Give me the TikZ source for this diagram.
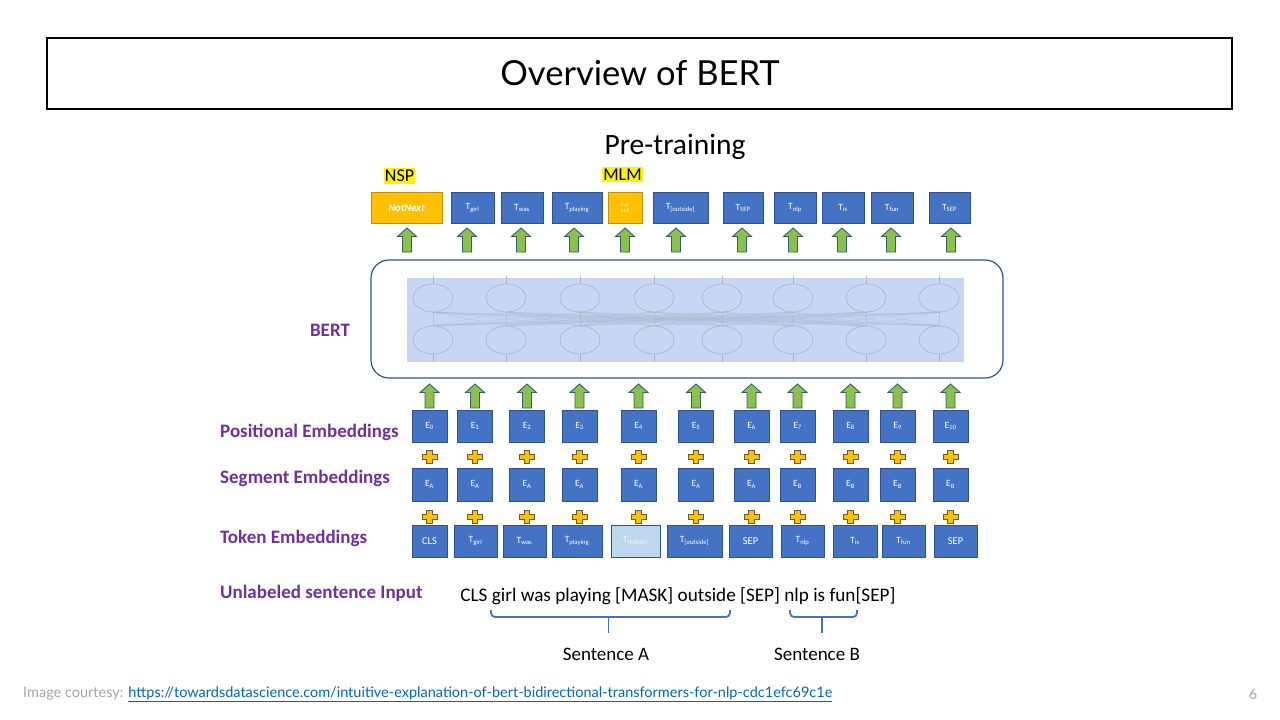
\documentclass[tikz,border=0pt]{standalone}
\usepackage{fontspec}
\setmainfont{Carlito}
\newfontfamily\gill{Lato}
\definecolor{bbox}{HTML}{4472C4}
\definecolor{bborder}{HTML}{2F528F}
\definecolor{orng}{HTML}{FFC000}
\definecolor{orngb}{HTML}{C09000}
\definecolor{purp}{HTML}{7030A0}
\definecolor{garr}{HTML}{86C24C}
\definecolor{garrb}{HTML}{3E5A70}
\definecolor{plusb}{HTML}{6B5A2A}
\definecolor{lightbl}{HTML}{C6D6F4}
\definecolor{maskbl}{HTML}{BDD7EE}
\definecolor{circg}{HTML}{A8B4CA}
\definecolor{linkbl}{HTML}{0563C1}
\definecolor{greytxt}{HTML}{A6A6A6}
\tikzset{
  tok/.style={draw=bborder, fill=bbox, line width=0.9pt, text=white,
    font=\fontsize{9.5}{10}\selectfont, inner sep=0pt, minimum height=32pt},
  otok/.style={tok, fill=orng, draw=orngb},
  arrowst/.style={draw=garrb, fill=garr, line width=0.9pt, line join=miter},
  plusst/.style={draw=plusb, fill=orng, line width=0.9pt},
  lbl/.style={font=\fontsize{19}{22}\selectfont\bfseries, text=purp, anchor=west, inner sep=0pt},
  bracest/.style={draw=bbox, line width=1.8pt, rounded corners=4pt},
  neuron/.style={draw=circg, line width=0.6pt, ellipse, minimum width=40pt, minimum height=28pt, inner sep=0pt},
}
\usetikzlibrary{shapes.geometric}
\newcommand\garrow[2]{%
  \draw[arrowst] (#1,#2) -- ++(9.5,8.5) -- ++(-5,0) -- ++(0,15.5) -- ++(-9,0) -- ++(0,-15.5) -- ++(-5,0) -- cycle;}
\newcommand\yplus[2]{%
  \draw[plusst] (#1-2.8,#2-6.5) -- (#1+2.8,#2-6.5) -- (#1+2.8,#2-2.5) -- (#1+7.5,#2-2.5) -- (#1+7.5,#2+2.5) -- (#1+2.8,#2+2.5) -- (#1+2.8,#2+6.5) -- (#1-2.8,#2+6.5) -- (#1-2.8,#2+2.5) -- (#1-7.5,#2+2.5) -- (#1-7.5,#2-2.5) -- (#1-2.8,#2-2.5) -- cycle;}
\begin{document}
\begin{tikzpicture}[x=1pt,y=-1pt]
\useasboundingbox[fill=white] (0,0) rectangle (1280,720);

% title
\node[draw=black, line width=2.2pt, minimum width=1185pt, minimum height=71pt, inner sep=0pt] (titlebox) at (639.5,73.5) {};
\node[font=\gill\fontsize{34.5}{38}\selectfont] (title) at (640,73) {Overview of BERT};

% pre-training
\node[font=\fontsize{29.5}{32}\selectfont] (pretrain) at (675,147) {Pre-training};
\node[fill=yellow, font=\fontsize{18}{20}\selectfont, inner xsep=1pt, inner ysep=2pt] (nsp) at (399.5,176) {NSP};
\node[fill=yellow, font=\fontsize{18}{20}\selectfont, inner xsep=1pt, inner ysep=2pt] (mlm) at (622.5,174.5) {MLM};

% top output row
\node[otok, minimum width=71pt, minimum height=31pt, font=\fontsize{10.5}{12}\selectfont\bfseries\itshape] (o0) at (406.5,208) {NotNext};
\node[otok, minimum width=34pt, minimum height=31pt, text=white!80!orng, font=\fontsize{5.5}{7}\selectfont, align=center] (o4) at (625,208) {lost\\[-1pt]ball};
\foreach \n/\x/\w/\t in {o1/472.5/43/{T\textsubscript{girl}}, o2/522/42/{T\textsubscript{was}}, o3/577/50/{T\textsubscript{playing}},
  o5/680.5/55/{T\textsubscript{[outside]}}, o6/743/40/{T\textsubscript{SEP}}, o7/795/42/{T\textsubscript{nlp}},
  o8/843/42/{T\textsubscript{is}}, o9/892/42/{T\textsubscript{fun}}, o10/949.5/41/{T\textsubscript{SEP}}}
  \node[tok, minimum width=\w pt, minimum height=31pt] (\n) at (\x,208) {\t};

% top arrows
\foreach \x in {407,467,521,574,625,676,742,793,842,891,951} \garrow{\x}{228};

% BERT block
\node[draw=bborder, line width=1.2pt, rounded corners=18pt, minimum width=632pt, minimum height=118pt, inner sep=0pt] (bert) at (687,319) {};
\fill[lightbl] (407,278) rectangle (964,362);
\foreach \x [count=\i] in {433,506,580,654,722,793,866,939}{
  \node[neuron] (u\i) at (\x,298) {};
  \node[neuron] (d\i) at (\x,340) {};
  \draw[circg, line width=0.5pt] (u\i.north) -- ++(0,-8);
  \draw[circg, line width=0.5pt] (d\i.south) -- ++(0,8);
}
\foreach \i in {1,...,8}{
  \foreach \j in {1,...,8}{
    \draw[circg, line width=0.3pt, opacity=0.6] (u\i.south) -- (d\j.north);
  }
}
\node[font=\fontsize{19}{22}\selectfont\bfseries, text=purp] (bertlbl) at (330,330) {BERT};

% lower arrows
\foreach \x in {429.5,475,527,579.5,638.5,696,751.5,797.5,850.5,897.5,950.5} \garrow{\x}{384};

% positional
\foreach \n/\x/\t in {p0/429.5/0, p1/475/1, p2/527/2, p3/579.5/3, p4/638.5/4, p5/696/5, p6/751.5/6, p7/797.5/7, p8/850.5/8, p9/897.5/9, p10/950.5/10}{
  \node[tok, minimum width=35pt] (\n) at (\x,426) {E\textsubscript{\t}};
  \yplus{\x}{457}
  \yplus{\x}{516.5}
}
% segment
\foreach \n/\x/\t in {s0/429.5/A, s1/475/A, s2/527/A, s3/579.5/A, s4/638.5/A, s5/696/A, s6/751.5/A, s7/797.5/B, s8/850.5/B, s9/897.5/B, s10/950.5/B}
  \node[tok, minimum width=35pt, minimum height=33pt] (\n) at (\x,484.5) {E\textsubscript{\t}};
% token
\foreach \n/\x/\w/\t in {k0/429.5/35/{\fontsize{10.5}{12}\selectfont CLS}, k1/475.5/43/{T\textsubscript{girl}}, k2/524.5/43/{T\textsubscript{was}},
  k3/577/50/{T\textsubscript{playing}}, k5/694.5/55/{T\textsubscript{[outside]}}, k6/750.5/43/{\fontsize{10.5}{12}\selectfont SEP},
  k7/802.5/43/{T\textsubscript{nlp}}, k8/855/44/{T\textsubscript{is}}, k9/903.5/43/{T\textsubscript{fun}}, k10/955.5/43/{\fontsize{10.5}{12}\selectfont SEP}}
  \node[tok, minimum width=\w pt] (\n) at (\x,541) {\t};
\node[tok, fill=maskbl, text=white!85!maskbl, minimum width=49pt] (k4) at (635.5,541) {T\textsubscript{[MASK]}};

% row labels
\node[lbl] (lpos) at (220,432) {Positional Embeddings};
\node[lbl] (lseg) at (220,478) {Segment Embeddings};
\node[lbl] (ltok) at (220,538) {Token Embeddings};
\node[lbl] (linp) at (220,593) {Unlabeled sentence Input};

% sentence
\node[font=\fontsize{19.2}{22}\selectfont] (sent) at (678,596) {CLS girl was playing [MASK] outside [SEP] nlp is fun[SEP]};
\draw[bracest] (491,610) -- (491,617) -- (730,617) -- (730,610);
\coordinate (bA) at (608.5,617);
\coordinate (bA2) at (608.5,633);
\draw[draw=bbox, line width=1.8pt] (bA) -- (bA2);
\draw[bracest] (790,610) -- (790,617) -- (857,617) -- (857,610);
\coordinate (bB) at (822,617);
\coordinate (bB2) at (822,633);
\draw[draw=bbox, line width=1.8pt] (bB) -- (bB2);
\node[font=\fontsize{19}{22}\selectfont] (senta) at (606,654) {Sentence A};
\node[font=\fontsize{19}{22}\selectfont] (sentb) at (817,654) {Sentence B};

% footer
\node[anchor=west, inner sep=0pt, font=\gill\fontsize{14.5}{16}\selectfont] (foot) at (23,694) {\textcolor{greytxt}{Image courtesy: }\textcolor{linkbl}{\underline{https://towardsdatascience.com/intuitive-explanation-of-bert-bidirectional-transformers-for-nlp-cdc1efc69c1e}}};
\node[font=\gill\fontsize{14.5}{16}\selectfont, text=greytxt] (pnum) at (1253,694) {6};
\end{tikzpicture}
\end{document}
